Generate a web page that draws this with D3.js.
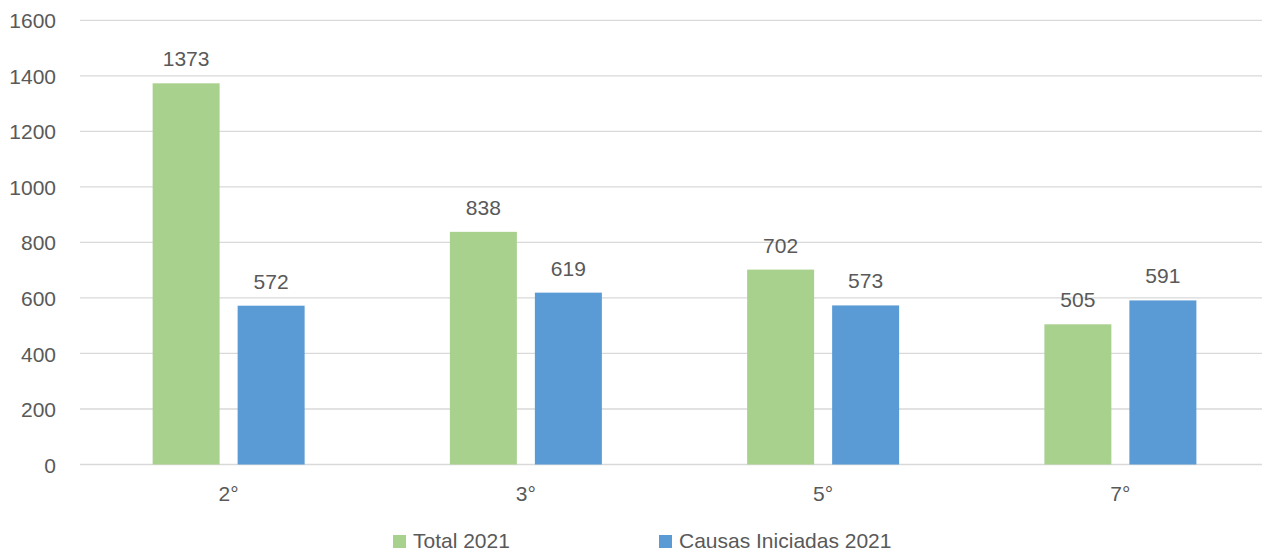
<!DOCTYPE html>
<html><head><meta charset="utf-8">
<script src="https://cdn.jsdelivr.net/npm/d3@7"></script>
<style>
html,body{margin:0;padding:0;background:#fff;}
text{font-family:"Liberation Sans",Arial,sans-serif;fill:#595959;}
</style></head>
<body><svg id="c" width="1262" height="552"></svg>
<script>
const categories = ["2°","3°","5°","7°"];
const seriesNames = ["Total 2021","Causas Iniciadas 2021"];
const totalValues = [1373, 838, 702, 505];
const causasValues = [572, 619, 573, 591];
const yTicks = [0,200,400,600,800,1000,1200,1400,1600];
const colors = ["#A9D18E","#5B9BD5"];

(function(){
const svg = d3.select("#c");
const FS = "21px", FF = "Liberation Sans, Arial, sans-serif";
const pLeft = 80, pRight = 1269, pTop = 20.3, pBottom = 464.5;
const x = d3.scaleBand().domain(categories).range([pLeft,pRight]).paddingInner(0).paddingOuter(0);
const y = d3.scaleLinear().domain([0,1600]).range([pBottom,pTop]);

// gridlines
svg.append("g").selectAll("line").data(yTicks).join("line")
  .attr("x1",pLeft).attr("x2",pRight)
  .attr("y1",d=>y(d)).attr("y2",d=>y(d))
  .attr("stroke","#d9d9d9").attr("stroke-width",1.3);

// y axis labels
const yAxis = d3.axisLeft(y).tickValues(yTicks).tickFormat(d3.format("d")).tickSize(0).tickPadding(0);
const ya = svg.append("g").attr("transform","translate(56,0)").call(yAxis);
ya.select(".domain").remove();
ya.selectAll("text").style("font-size",FS).style("font-family",FF).attr("fill","#595959").attr("dy","0.36em");

// x axis labels
const xAxis = d3.axisBottom(x).tickSize(0).tickPadding(0);
const xa = svg.append("g").attr("transform",`translate(0,${pBottom})`).call(xAxis);
xa.select(".domain").remove();
xa.selectAll("text").style("font-size",FS).style("font-family",FF).attr("fill","#595959").attr("dy","0").attr("y",36);

const barW = 67, gap = 18;
const series = [totalValues, causasValues];
series.forEach((vals,si)=>{
  const g = svg.append("g");
  const xOff = c => x(c) + x.bandwidth()/2 - (2*barW+gap)/2 + si*(barW+gap);
  g.selectAll("rect").data(categories).join("rect")
    .attr("x",c=>xOff(c))
    .attr("width",barW)
    .attr("y",(c,i)=>y(vals[i]))
    .attr("height",(c,i)=>y(0)-y(vals[i]))
    .attr("fill",colors[si]);
  g.selectAll("text").data(categories).join("text")
    .attr("x",c=>xOff(c)+barW/2)
    .attr("y",(c,i)=>y(vals[i])-17)
    .attr("text-anchor","middle")
    .style("font-size",FS)
    .text((c,i)=>vals[i]);
});

// legend
const legendX = [393, 659];
seriesNames.forEach((n,i)=>{
  svg.append("rect").attr("x",legendX[i]).attr("y",535).attr("width",13).attr("height",13).attr("fill",colors[i]);
  svg.append("text").attr("x",legendX[i]+20).attr("y",548).style("font-size",FS).text(n);
});
})();
</script></body></html>
